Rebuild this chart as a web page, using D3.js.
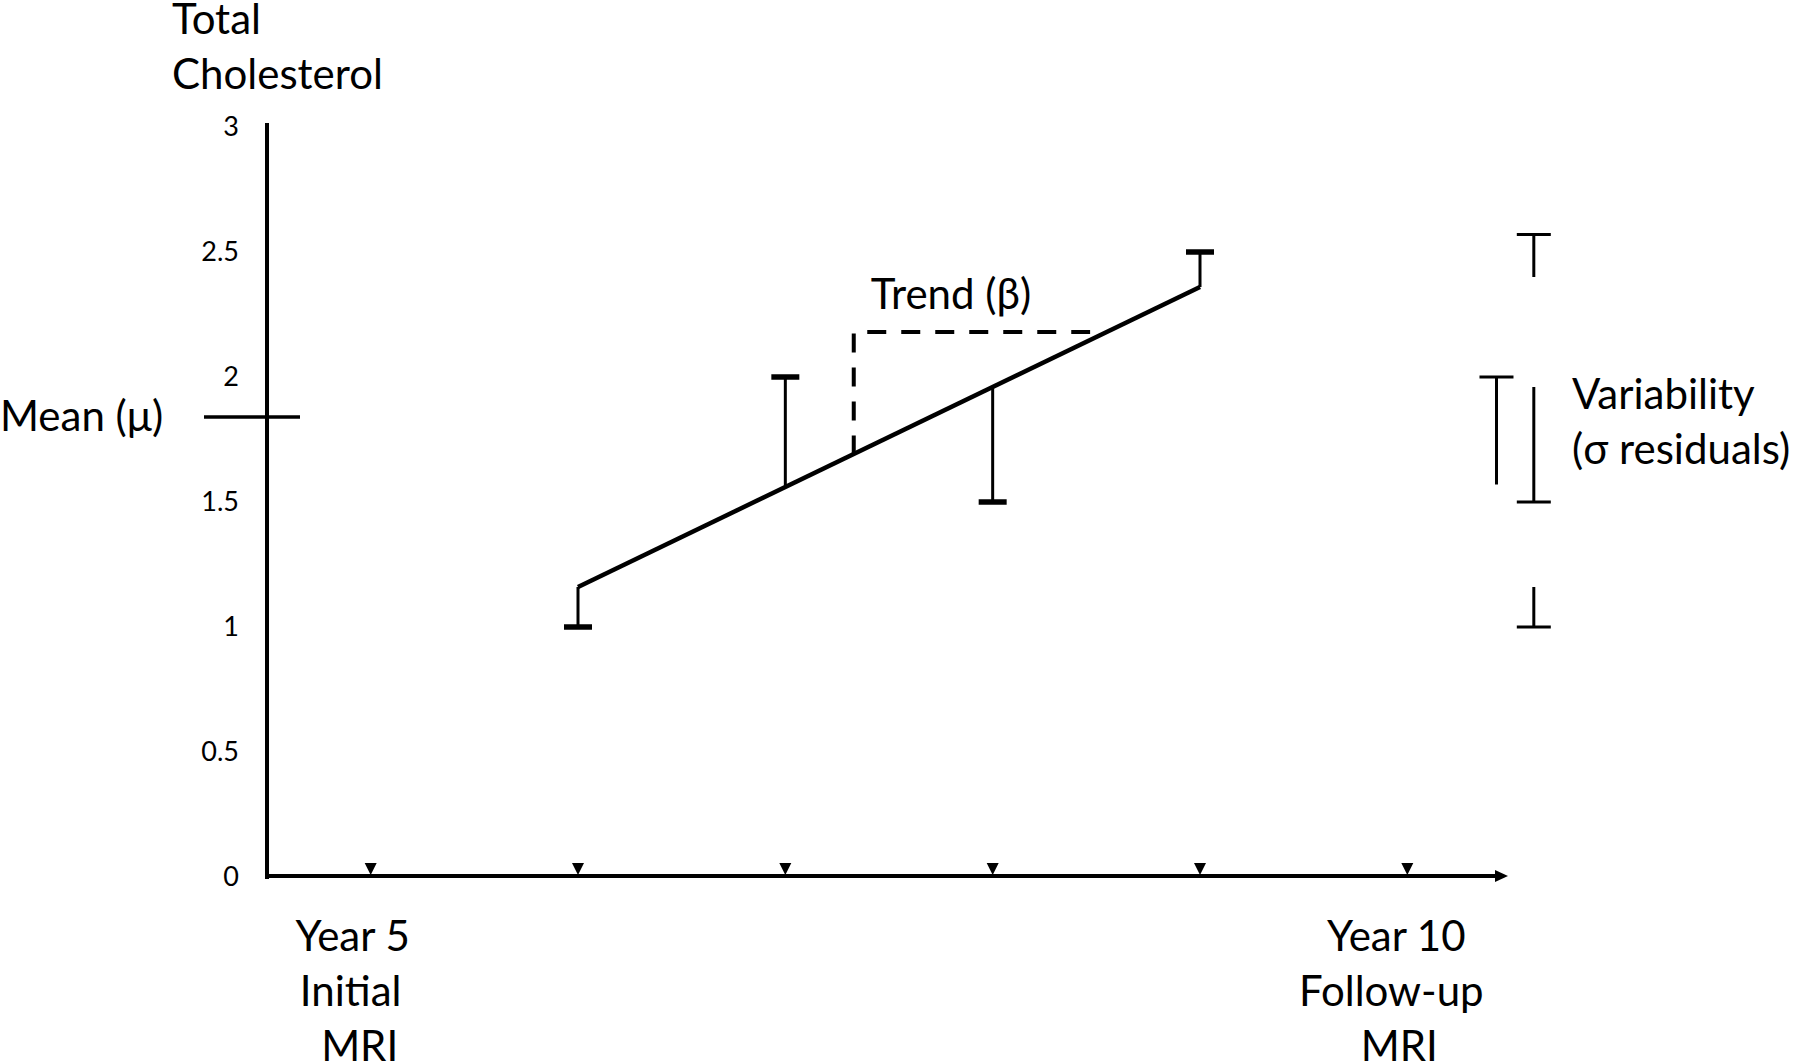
<!DOCTYPE html>
<html>
<head>
<meta charset="utf-8">
<script src="https://cdn.jsdelivr.net/npm/d3@7"></script>
<style>
  html, body { margin: 0; padding: 0; background: #fff; }
  svg { display: block; }
  text { font-family: Lato, "Open Sans", sans-serif; fill: #000; }
</style>
</head>
<body>
<svg id="chart" width="1800" height="1062"></svg>
<script>
// time points (years) and value ticks
const years = [5, 6, 7, 8, 9, 10];
const yTicks = [0, 0.5, 1, 1.5, 2, 2.5, 3];

// fitted trend line
const trendYears = [6, 9];
const trendValues = [1.16, 2.36];

// residuals: fitted value -> observed value
const residualYears = [6, 7, 8, 9];
const fittedValues = [1.16, 1.56, 1.96, 2.36];
const observedValues = [1.0, 2.0, 1.5, 2.5];

const meanValue = 1.84;

// dashed slope triangle
const slopeYears = [7.33, 8.47];
const slopeValues = [1.69, 2.18];

// residual bars repeated beside the axis
const sidePos = [10.61, 10.43, 10.61, 10.61];
const sideFrom = [2.40, 1.57, 1.96, 1.16];
const sideTo = [2.57, 2.0, 1.5, 1.0];

const svg = d3.select("#chart");

const x = d3.scaleLinear().domain([4.5, 10.5]).range([267, 1511]);
const y = d3.scaleLinear().domain([0, 3]).range([877, 127]);

/**
 * Axes
 */
const x0 = x(4.5);
const y0 = y(0);

svg.append("line")
  .attr("x1", x0).attr("x2", x0)
  .attr("y1", y0 + 2).attr("y2", y(3) - 4)
  .style("stroke", "#000").style("stroke-width", 4);

svg.append("line")
  .attr("x1", x0 - 2).attr("x2", x(10.5) - 12)
  .attr("y1", y0 - 1).attr("y2", y0 - 1)
  .style("stroke", "#000").style("stroke-width", 4);

// arrow head
const tip = x(10.5) - 3;
svg.append("path")
  .attr("d", "M" + tip + "," + (y0 - 1) + "L" + (tip - 13) + "," + (y0 - 7) + "L" + (tip - 13) + "," + (y0 + 5) + "Z")
  .style("fill", "#000");

const yAxis = svg.append("g")
  .attr("transform", "translate(" + x0 + ",0)")
  .call(d3.axisLeft(y).tickValues(yTicks).tickSize(0).tickPadding(28).tickFormat(d3.format("~g")));
yAxis.select(".domain").remove();
yAxis.selectAll("text")
  .style("font-family", "Lato, sans-serif")
  .style("font-size", "27px")
  .style("fill", "#000");

// time point markers
svg.selectAll(".marker")
  .data(years)
  .enter().append("path")
  .attr("class", "marker")
  .attr("d", function (d) {
    const cx = x(d);
    return "M" + (cx - 6) + "," + (y0 - 14) + "L" + (cx + 6) + "," + (y0 - 14) + "L" + cx + "," + (y0 - 2) + "Z";
  })
  .style("fill", "#000");

/**
 * Mean
 */
svg.append("line")
  .attr("x1", x0 - 63).attr("x2", x0 + 33)
  .attr("y1", y(meanValue)).attr("y2", y(meanValue))
  .style("stroke", "#000").style("stroke-width", 3.5);

/**
 * Trend and residuals
 */
const trend = trendYears.map(function (d, i) { return [x(d), y(trendValues[i])]; });
svg.append("path")
  .attr("d", d3.line()(trend))
  .style("fill", "none").style("stroke", "#000").style("stroke-width", 4.5);

const residuals = residualYears.map(function (d, i) {
  return { year: d, fit: fittedValues[i], obs: observedValues[i] };
});

svg.selectAll(".stem")
  .data(residuals)
  .enter().append("line")
  .attr("class", "stem")
  .attr("x1", function (d) { return x(d.year); })
  .attr("x2", function (d) { return x(d.year); })
  .attr("y1", function (d) { return y(d.fit); })
  .attr("y2", function (d) { return y(d.obs); })
  .style("stroke", "#000").style("stroke-width", 3);

svg.selectAll(".cap")
  .data(residuals)
  .enter().append("line")
  .attr("class", "cap")
  .attr("x1", function (d) { return x(d.year) - 14; })
  .attr("x2", function (d) { return x(d.year) + 14; })
  .attr("y1", function (d) { return y(d.obs); })
  .attr("y2", function (d) { return y(d.obs); })
  .style("stroke", "#000").style("stroke-width", 5.5);

// slope triangle
const slope = [
  [x(slopeYears[0]), y(slopeValues[0])],
  [x(slopeYears[0]), y(slopeValues[1])],
  [x(slopeYears[1]), y(slopeValues[1])]
];
svg.append("path")
  .attr("d", d3.line()(slope))
  .style("fill", "none").style("stroke", "#000").style("stroke-width", 4)
  .style("stroke-dasharray", "19,15");

/**
 * Side residual bars
 */
const side = sidePos.map(function (d, i) { return { pos: d, from: sideFrom[i], to: sideTo[i] }; });

svg.selectAll(".side-stem")
  .data(side)
  .enter().append("line")
  .attr("class", "side-stem")
  .attr("x1", function (d) { return x(d.pos); })
  .attr("x2", function (d) { return x(d.pos); })
  .attr("y1", function (d) { return y(d.from); })
  .attr("y2", function (d) { return y(d.to); })
  .style("stroke", "#000").style("stroke-width", 3);

svg.selectAll(".side-cap")
  .data(side)
  .enter().append("line")
  .attr("class", "side-cap")
  .attr("x1", function (d) { return x(d.pos) - 17; })
  .attr("x2", function (d) { return x(d.pos) + 17; })
  .attr("y1", function (d) { return y(d.to); })
  .attr("y2", function (d) { return y(d.to); })
  .style("stroke", "#000").style("stroke-width", 3);

/**
 * Labels
 */
function label(lines, px, py, anchor, shifts) {
  const t = svg.append("text")
    .attr("x", px).attr("y", py)
    .attr("text-anchor", anchor)
    .style("font-size", "42px");
  lines.forEach(function (s, i) {
    const dx = shifts ? shifts[i] : 0;
    t.append("tspan").attr("x", px + dx).attr("dy", i ? 55 : 0).text(s);
  });
  return t;
}

label(["Total", "Cholesterol"], 172, 34, "start");
label(["Mean (\u03bc)"], 0, 431, "start");
label(["Trend (\u03b2)"], 951, 309, "middle");
label(["Variability", "(\u03c3 residuals)"], 1572, 409, "start");
label(["Year 5", "Initial", "MRI"], x(years[0]) - 18, 951, "middle", [0, -2, 7]);
label(["Year 10", "Follow-up", "MRI"], x(years[5]) - 11, 951, "middle", [0, -5, 3]);
</script>
</body>
</html>
